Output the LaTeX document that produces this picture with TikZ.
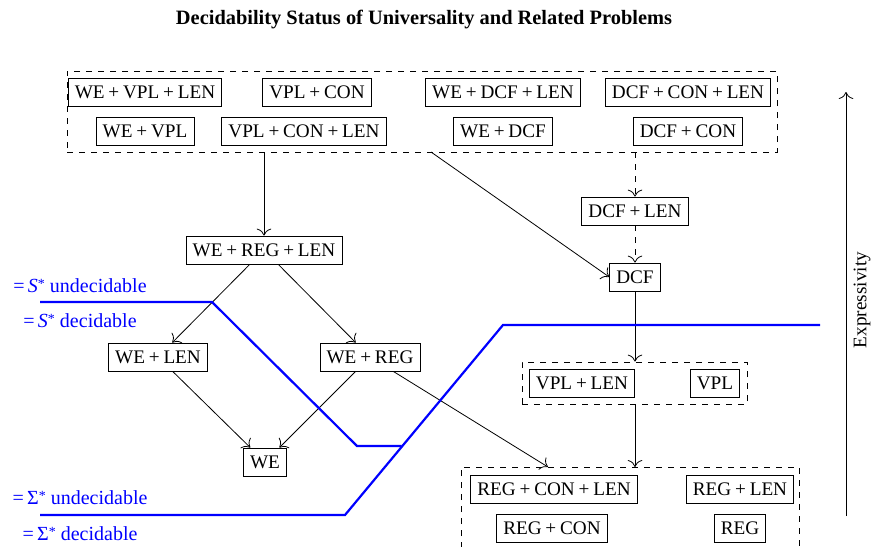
\documentclass[tikz,border=0pt]{standalone}
\usepackage{fontspec}
\setmainfont{Liberation Serif}
\usetikzlibrary{arrows.meta}
\newcommand\pls{\hspace{0.2em}+\hspace{0.2em}}
\newcommand\sstar{\textit{S}\raisebox{0.45ex}{\fontsize{7}{8}\selectfont *}}
\newcommand\gstar{Σ\raisebox{0.45ex}{\fontsize{7}{8}\selectfont *}}
\begin{document}
\begin{tikzpicture}[x=0.5pt,y=-0.5pt, >={To[scale=1.4]},
  box/.style={draw, font=\fontsize{9.6}{11}\selectfont, inner sep=0.3333em, minimum height=14pt},
  grp/.style={draw, dashed, inner sep=0pt},
  lab/.style={text=blue, font=\fontsize{10}{12}\selectfont},
  bline/.style={draw=blue, line width=1.1pt},
  conn/.style={->},
  dconn/.style={->, dashed}]
\useasboundingbox (0,0) rectangle (875,547);

\node[font=\fontsize{10.2}{12}\selectfont\bfseries] (title) at (424,20) {Decidability Status of Universality and Related Problems};

% top group
\node[grp, minimum width=355pt, minimum height=40.5pt] (top) at (422,111.5) {};
\node[box] (a1) at (145,92) {WE\pls VPL\pls LEN};
\node[box] (a2) at (317,92) {VPL\pls CON};
\node[box] (a3) at (503,92) {WE\pls DCF\pls LEN};
\node[box] (a4) at (688,92) {DCF\pls CON\pls LEN};
\node[box] (b1) at (145,131) {WE\pls VPL};
\node[box] (b2) at (304,131) {VPL\pls CON\pls LEN};
\node[box] (b3) at (503,131) {WE\pls DCF};
\node[box] (b4) at (688,131) {DCF\pls CON};

% middle
\node[box] (wrl) at (264,250) {WE\pls REG\pls LEN};
\node[box] (wl) at (158,357) {WE\pls LEN};
\node[box] (wr) at (370,357) {WE\pls REG};
\node[box] (we) at (265,462) {WE};

\node[box] (dcflen) at (635,211) {DCF\pls LEN};
\node[box] (dcf) at (635,277) {DCF};

% VPL group
\node[grp, minimum width=112.5pt, minimum height=21pt] (vplg) at (634.5,383) {};
\node[box] (vpllen) at (582,383) {VPL\pls LEN};
\node[box] (vpl) at (715,383) {VPL};

% REG group (extends below the picture)
\coordinate (rgtl) at (461,467);
\coordinate (rgtr) at (799,467);
\draw[dashed] (461,560) -- (rgtl) -- (rgtr) -- (799,560);
\node[box] (rcl) at (554,489) {REG\pls CON\pls LEN};
\node[box] (rl) at (740,489) {REG\pls LEN};
\node[box] (rc) at (552,528) {REG\pls CON};
\node[box] (r) at (740,528) {REG};

% connectors
\coordinate (c1) at (431,152);
\coordinate (c2) at (548,467);
\coordinate (c3) at (635,467);
\draw[conn] (wrl |- top.south) -- (wrl.north);
\draw[conn] (c1) -- (dcf.west);
\draw[dconn] (dcflen |- top.south) -- (dcflen.north);
\draw[dconn] (dcflen) -- (dcf);
\draw[conn] (dcf.south) -- (dcf |- vplg.north);
\draw[conn] (dcf |- vplg.south) -- (c3);
\draw[conn] (wrl) -- (wl);
\draw[conn] (wrl) -- (wr);
\draw[conn] (wl) -- (we);
\draw[conn] (wr) -- (we);
\draw[conn] (wr) -- (c2);

% blue boundary lines
\draw[bline] (40,302) -- (212,302) -- (357,446) -- (401.5,446);
\draw[bline] (40,515) -- (345,515) -- (503,325) -- (820,325);
\node[lab] (l1) at (80,286) {=\,\sstar{} undecidable};
\node[lab] (l2) at (80,321) {=\,\sstar{} decidable};
\node[lab] (l3) at (80,498) {=\,\gstar{} undecidable};
\node[lab] (l4) at (80,534) {=\,\gstar{} decidable};

% expressivity axis
\coordinate (e0) at (846,516);
\coordinate (e1) at (846,92);
\draw[->] (e0) -- (e1);
\node[rotate=90, font=\fontsize{9.6}{11}\selectfont] (expr) at (862,300) {Expressivity};
\end{tikzpicture}
\end{document}
